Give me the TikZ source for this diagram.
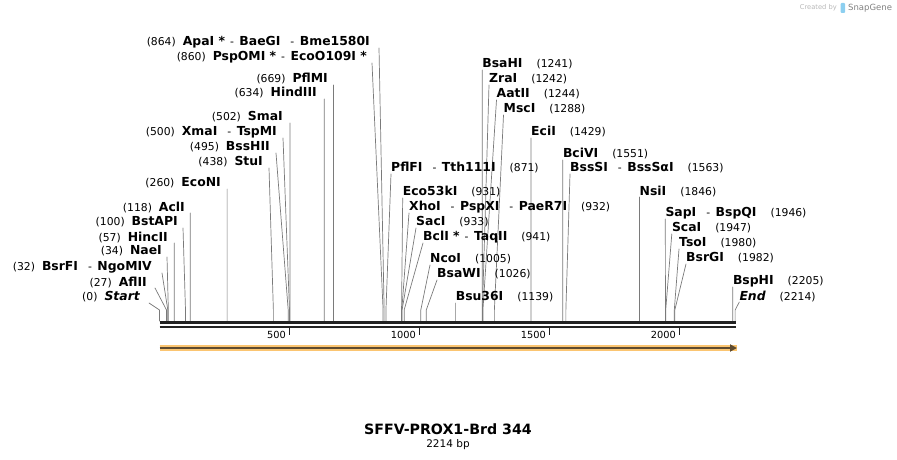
\documentclass[tikz,border=0pt]{standalone}
\usepackage{fontspec}
\setmainfont{DejaVu Sans}
\usetikzlibrary{arrows.meta,positioning}
\definecolor{leadgray}{HTML}{7A7A7A}
\definecolor{axisblack}{HTML}{222222}
\definecolor{featorange}{HTML}{FBC571}
\definecolor{featdark}{HTML}{5E4B30}
\definecolor{markgray}{HTML}{B8B8B8}
\definecolor{markblue}{HTML}{8CCFF0}
\newcommand{\enz}[1]{{\fontsize{12.4}{14}\selectfont\bfseries #1}}
\newcommand{\sep}{\hspace{10pt}-\hspace{5.5pt}}
\newcommand{\sepa}{\hspace{5pt}-\hspace{5.5pt}}
\tikzset{
  lbl/.style={inner sep=0pt, font=\fontsize{10.8}{13}\selectfont},
  leader/.style={leadgray, line width=0.7pt},
}
\begin{document}
\begin{tikzpicture}[x=1pt, y=-1pt, line join=round, line cap=round, >=stealth]
	\useasboundingbox (0,0) rectangle (897,460);
	% sites labelled to the left of their line
	\foreach \p/\y/\tx/\lx/\nm in {
		864/42/370/379/{\enz{ApaI *}\sepa\enz{BaeGI}\sep\enz{Bme1580I}},
		860/57/367/372/{\enz{PspOMI *}\sepa\enz{EcoO109I *}},
		669/79/328/333.4/{\enz{PflMI}},
		634/93/317/324.3/{\enz{HindIII}},
		502/117/283/290/{\enz{SmaI}},
		500/132/277/283/{\enz{XmaI}\sep\enz{TspMI}},
		495/147/270/276/{\enz{BssHII}},
		438/162/263/269/{\enz{StuI}},
		260/183/221/227.1/{\enz{EcoNI}},
		118/207/185/190.2/{\enz{AclI}},
		100/222/178/183/{\enz{BstAPI}},
		57/237/168/174.3/{\enz{HincII}},
		34/251/162/167/{\enz{NaeI}},
		32/267/152/162/{\enz{BsrFI}\sep\enz{NgoMIV}},
		27/282/147/155/{\enz{AflII}},
		0/297/140/149/{\enz{\itshape Start}}} {
		\coordinate (s\p) at ({159.5+0.26*\p},321);
		\coordinate (k\p) at ({159.5+0.26*\p},310);
		\coordinate (t\p) at ({\lx},{\y+6});
		\node[lbl, anchor=east] (l\p) at ({\tx},{\y}) {(\p)\hspace{7pt}\nm};
		\draw[leader] (t\p) -- (k\p) -- (s\p);}
	% sites labelled to the right of their line
	\foreach \p/\y/\lx/\nm in {
		1241/64/482.2/{\enz{BsaHI}},
		1242/79/489/{\enz{ZraI}},
		1244/94/496.5/{\enz{AatII}},
		1288/109/503.5/{\enz{MscI}},
		1429/132/531/{\enz{EciI}},
		1551/154/562.8/{\enz{BciVI}},
		1563/168/570/{\enz{BssSI}\sep\enz{BssSαI}},
		871/168/391/{\enz{PflFI}\sep\enz{Tth111I}},
		931/192/402.7/{\enz{Eco53kI}},
		932/207/409/{\enz{XhoI}\sep\enz{PspXI}\sep\enz{PaeR7I}},
		933/222/416/{\enz{SacI}},
		941/237/423/{\enz{BclI *}\sepa\enz{TaqII}},
		1005/259/430/{\enz{NcoI}},
		1026/274/437/{\enz{BsaWI}},
		1139/297/455.6/{\enz{Bsu36I}},
		1846/191/639.5/{\enz{NsiI}},
		1946/213/665.3/{\enz{SapI}\sep\enz{BspQI}},
		1947/228/671.8/{\enz{ScaI}},
		1980/243/679/{\enz{TsoI}},
		1982/258/686/{\enz{BsrGI}},
		2205/281/732.8/{\enz{BspHI}},
		2214/296/739.3/{\enz{\itshape End}}} {
		\coordinate (s\p) at ({159.5+0.26*\p},321);
		\coordinate (k\p) at ({159.5+0.26*\p},310);
		\coordinate (t\p) at ({\lx},{\y+6});
		\node[lbl, anchor=west] (l\p) at ({\lx},{\y}) {\nm\hspace{14pt}(\p)};
		\draw[leader] (t\p) -- (k\p) -- (s\p);}
	% map axis
	\coordinate (a0) at (159.5,322.5);
	\coordinate (a1) at (735.5,322.5);
	\coordinate (b0) at (159.5,326.5);
	\coordinate (b1) at (735.5,326.5);
	\draw[axisblack, line width=3pt, line cap=butt] (a0) -- (a1);
	\draw[axisblack, line width=2pt, line cap=butt] (b0) -- (b1);
	\foreach \t in {500,1000,1500,2000} {
		\coordinate (m\t) at ({159.5+0.26*\t},326);
		\draw[axisblack, line width=1.7pt, line cap=butt] (m\t) -- ++(0,9);
		\node[inner sep=0pt, anchor=east, font=\fontsize{9.8}{12}\selectfont] (n\t) at ([xshift=-3.5pt,yshift=-9pt]m\t) {\t};}
	% feature arrow
	\coordinate (f0) at (159.5,348);
	\coordinate (f1) at (737,348);
	\draw[featorange, line width=6pt, line cap=butt] (f0) -- (f1);
	\draw[featdark, line width=1.8pt, line cap=butt, -{Triangle[length=7pt,width=7pt]}] (f0) -- (f1);
	% title
	\node[inner sep=0pt, font=\fontsize{14.2}{17}\selectfont\bfseries] (title) at (448,429) {SFFV-PROX1-Brd 344};
	\node[inner sep=0pt, below=4.5pt of title, font=\fontsize{10.5}{12}\selectfont] (len) {2214 bp};
	% watermark
	\node[inner sep=0pt, anchor=east, font=\fontsize{6.7}{8}\selectfont, text=markgray] (made) at (837,8) {Created by};
	\fill[markblue, rounded corners=1pt] (840.5,3) rectangle (845,13);
	\node[inner sep=0pt, anchor=west, font=\fontsize{8.5}{10}\selectfont, text=gray] (brand) at (848,8) {SnapGene};
\end{tikzpicture}
\end{document}
